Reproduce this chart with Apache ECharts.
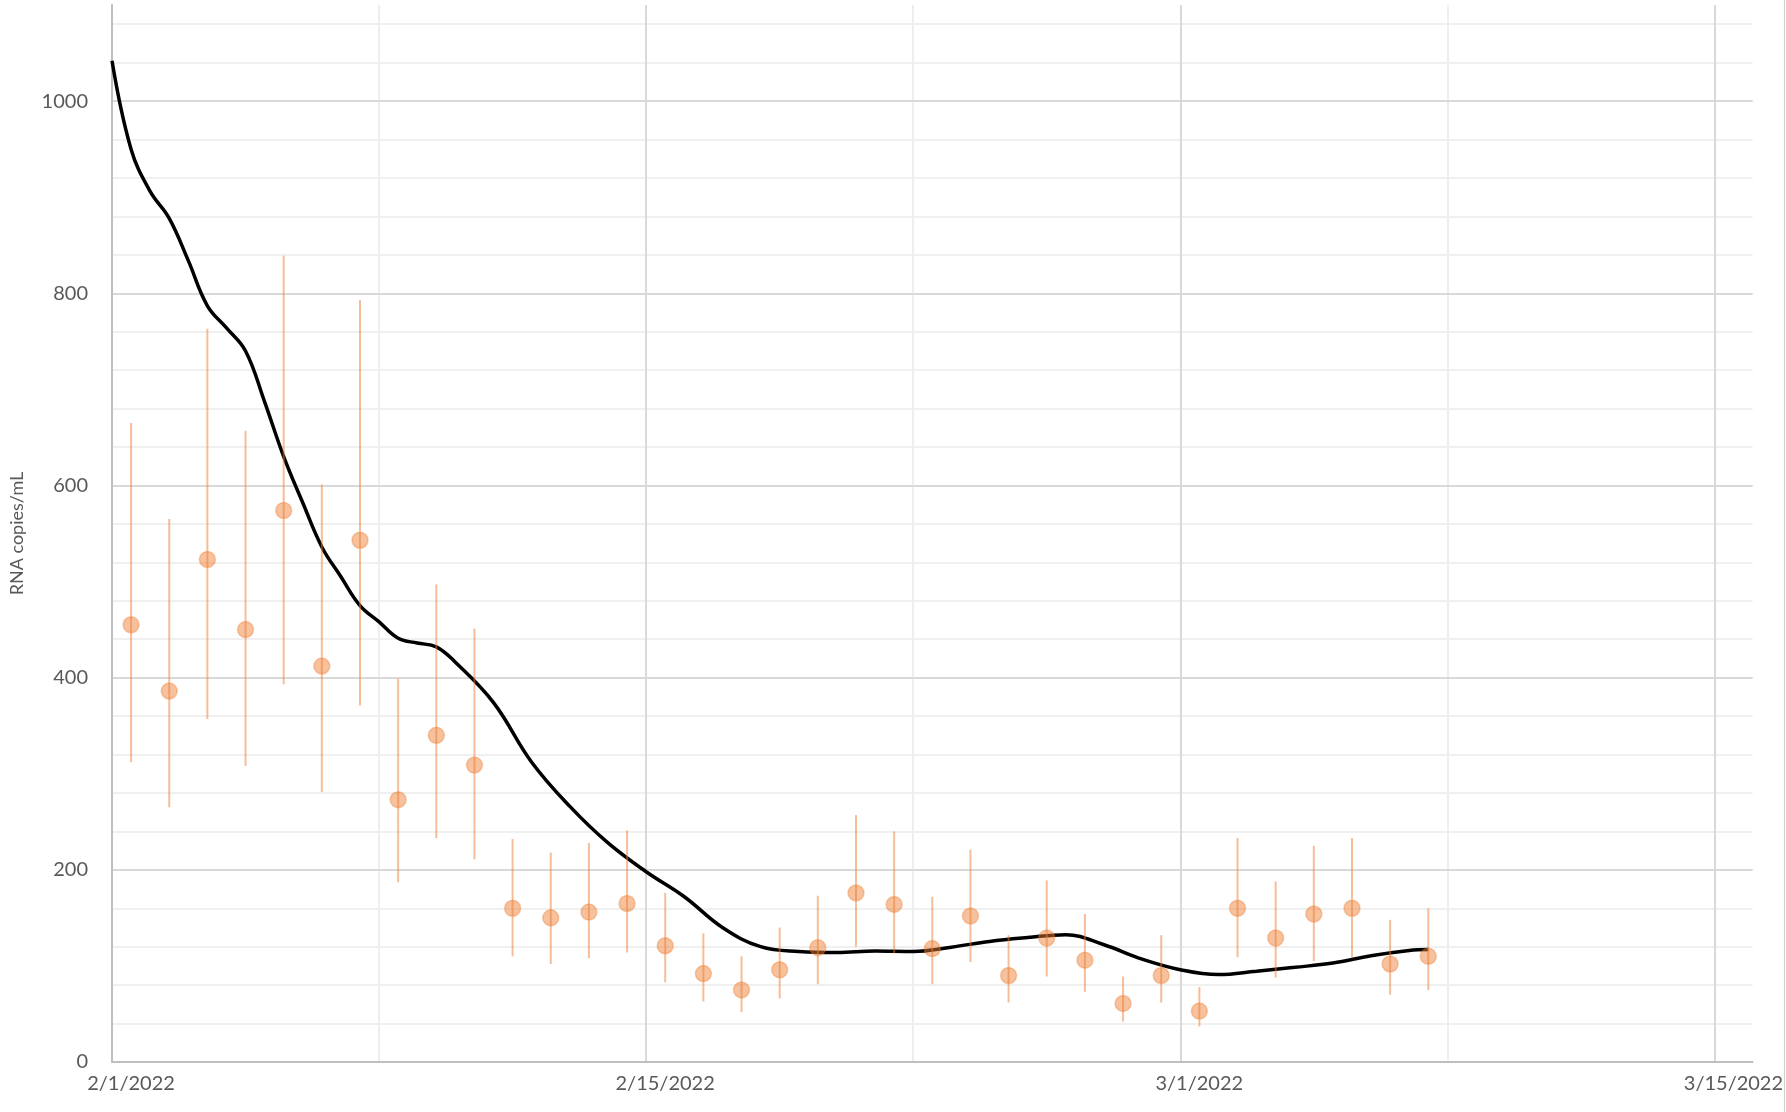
<!DOCTYPE html>
<html>
<head>
<meta charset="utf-8">
<script src="https://cdn.jsdelivr.net/npm/echarts@6/dist/echarts.min.js"></script>
<style>
  html, body { margin: 0; padding: 0; background: #fff; }
  #chart { width: 1786px; height: 1112px; }
</style>
</head>
<body>
<div id="chart"></div>
<script>
// days counted from 2/1/2022 (0 = 2/1), samples sit at the middle of each day
var startDate = new Date(2022, 1, 1);
var sampleDays = [0.5, 1.5, 2.5, 3.5, 4.5, 5.5, 6.5, 7.5, 8.5, 9.5, 10.5, 11.5, 12.5, 13.5, 14.5, 15.5, 16.5, 17.5,
  18.5, 19.5, 20.5, 21.5, 22.5, 23.5, 24.5, 25.5, 26.5, 27.5, 28.5, 29.5, 30.5, 31.5, 32.5, 33.5, 34.5];
var sampleVals = [455, 386, 523, 450, 574, 412, 543, 273, 340, 309, 160, 150, 156, 165, 121, 92, 75, 96,
  119, 176, 164, 118, 152, 90, 129, 106, 61, 90, 53, 160, 129, 154, 160, 102, 110];
var errHigh = [665, 565, 763, 657, 839, 601, 793, 399, 497, 451, 232, 218, 228, 241, 176, 134, 110, 140,
  173, 257, 240, 172, 221, 132, 189, 154, 89, 132, 78, 233, 188, 225, 233, 148, 160];
var errLow = [312, 265, 357, 308, 393, 281, 371, 187, 233, 211, 110, 102, 108, 114, 83, 63, 52, 66,
  81, 120, 113, 81, 104, 62, 89, 73, 42, 62, 37, 109, 88, 105, 109, 70, 75];

// smoothed trend line
var trendDays = [0, 0.5, 1, 1.5, 2, 2.5, 3, 3.5, 4, 4.5, 5, 5.5, 6, 6.5, 7, 7.5, 8, 8.5, 9, 10, 11, 12, 13,
  14, 15, 16, 17, 18, 19, 20, 21, 22, 23, 24, 25, 26, 27, 28, 29, 30, 31, 32, 33, 34, 34.5];
var trendVals = [1042, 950, 906, 878, 834, 787, 764, 740, 687, 630, 582, 536, 505, 475, 458, 441, 436, 432,
  416, 374, 312, 266, 228, 198, 172, 140, 120, 115, 114, 115.5, 115, 119.5, 125.5, 129.5, 132.5, 122, 107,
  96, 91, 94.5, 98.5, 103, 110.5, 116, 117];

var chart = echarts.init(document.getElementById('chart'));

var fontFam = 'Lato';
var labelColor = '#595959';

function dayLabel(v) {
  if (v % 14 !== 0) return '';
  var d = new Date(startDate.getTime() + v * 86400000);
  return (d.getMonth() + 1) + '/' + d.getDate() + '/' + d.getFullYear();
}

var scatterData = sampleDays.map(function (d, i) { return [d, sampleVals[i]]; });
var errData = sampleDays.map(function (d, i) { return [d, errLow[i], errHigh[i]]; });
var trendData = trendDays.map(function (d, i) { return [d, trendVals[i]]; });

chart.setOption({
  animation: false,
  backgroundColor: '#fff',
  textStyle: { fontFamily: fontFam },
  grid: { left: 109, right: 30, top: 5, bottom: 50, containLabel: false },
  xAxis: [
    {
      type: 'value', min: 0, max: 43, interval: 14,
      axisLine: { show: true, lineStyle: { color: '#bfbfbf', width: 2 } },
      axisTick: { show: false },
      axisLabel: {
        formatter: dayLabel, color: labelColor, fontSize: 20, fontFamily: fontFam,
        margin: 12, padding: [0, 0, 0, 38], showMaxLabel: false
      },
      splitLine: { show: true, showMinLine: false, showMaxLine: false, lineStyle: { color: '#d9d9d9', width: 2 } },
      z: 1
    },
    {
      // lighter weekly lines
      type: 'value', min: 0, max: 43, interval: 7,
      axisLine: { show: false }, axisTick: { show: false }, axisLabel: { show: false },
      splitLine: { show: true, showMinLine: false, showMaxLine: false, lineStyle: { color: '#eeeeee', width: 2 } },
      z: 0
    }
  ],
  yAxis: [
    {
      type: 'value', min: 0, max: 1100, interval: 200,
      name: 'RNA copies/mL', nameLocation: 'middle', nameRotate: 90, nameGap: 86,
      nameTextStyle: { color: labelColor, fontSize: 18, fontFamily: fontFam },
      axisLine: { show: true, lineStyle: { color: '#bfbfbf', width: 2 } },
      axisTick: { show: false },
      axisLabel: {
        formatter: function (v) { return String(v); },
        color: labelColor, fontSize: 20, fontFamily: fontFam, margin: 24, showMaxLabel: false
      },
      splitLine: { show: true, showMinLine: false, showMaxLine: false, lineStyle: { color: '#d9d9d9', width: 2 } },
      z: 1
    },
    {
      type: 'value', min: 0, max: 1100, interval: 40,
      axisLine: { show: false }, axisTick: { show: false }, axisLabel: { show: false },
      splitLine: { show: true, showMinLine: false, showMaxLine: false, lineStyle: { color: '#f0f0f0', width: 2 } },
      z: 0
    }
  ],
  series: [
    {
      name: 'trend',
      type: 'line',
      data: trendData,
      smooth: 0.4,
      showSymbol: false,
      lineStyle: { color: '#000', width: 3.5 },
      z: 2
    },
    {
      name: 'error',
      type: 'custom',
      data: errData,
      renderItem: function (params, api) {
        var lo = api.coord([api.value(0), api.value(1)]);
        var hi = api.coord([api.value(0), api.value(2)]);
        return {
          type: 'line',
          shape: { x1: lo[0], y1: lo[1], x2: hi[0], y2: hi[1] },
          style: { stroke: 'rgba(237,125,49,0.5)', lineWidth: 2 }
        };
      },
      z: 3
    },
    {
      name: 'samples',
      type: 'scatter',
      data: scatterData,
      symbol: 'circle',
      symbolSize: 16,
      itemStyle: { color: 'rgba(237,125,49,0.6)', borderColor: 'rgba(237,125,49,0.45)', borderWidth: 1.5 },
      z: 4
    }
  ],
  graphic: [
    {
      type: 'line', silent: true,
      shape: { x1: 1784.5, y1: 0, x2: 1784.5, y2: 1112 },
      style: { stroke: '#d0d0d0', lineWidth: 1 }
    }
  ]
});
</script>
</body>
</html>
